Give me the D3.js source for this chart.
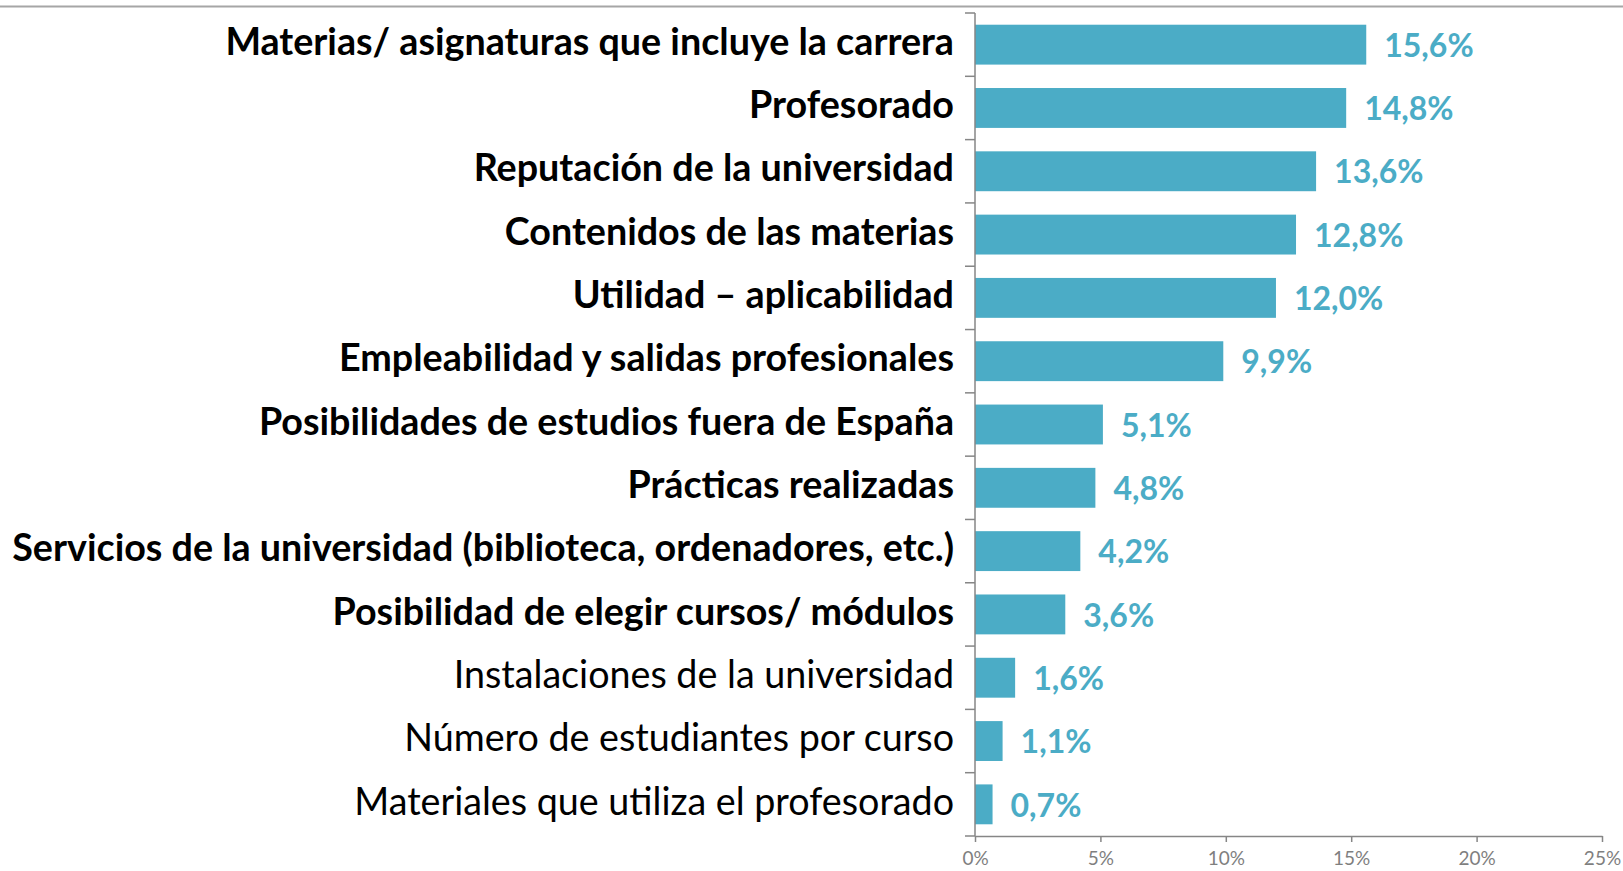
<!DOCTYPE html>
<html>
<head>
<meta charset="utf-8">
<script src="https://cdn.jsdelivr.net/npm/d3@7"></script>
<style>
  body { margin: 0; background: #fff; }
  svg { display: block; }
  text { font-family: Lato, "Open Sans", sans-serif; }
</style>
</head>
<body>
<svg></svg>
<script>
var categories = [
  "Materias/ asignaturas que incluye la carrera",
  "Profesorado",
  "Reputación de la universidad",
  "Contenidos de las materias",
  "Utilidad – aplicabilidad",
  "Empleabilidad y salidas profesionales",
  "Posibilidades de estudios fuera de España",
  "Prácticas realizadas",
  "Servicios de la universidad (biblioteca, ordenadores, etc.)",
  "Posibilidad de elegir cursos/ módulos",
  "Instalaciones de la universidad",
  "Número de estudiantes por curso",
  "Materiales que utiliza el profesorado"
];
var values = [15.6, 14.8, 13.6, 12.8, 12.0, 9.9, 5.1, 4.8, 4.2, 3.6, 1.6, 1.1, 0.7];
var boldFlags = [true, true, true, true, true, true, true, true, true, true, false, false, false];
var xTicks = [0, 5, 10, 15, 20, 25];

var width = 1623, height = 871;
var margin = {top: 13, right: 21, bottom: 35, left: 975};

var svg = d3.select("svg")
  .attr("width", width)
  .attr("height", height);

var data = categories.map(function(c, i) {
  return {name: c, value: values[i], bold: boldFlags[i]};
});

var x = d3.scaleLinear()
  .domain([0, 25])
  .range([margin.left, width - margin.right]);

var y = d3.scaleBand()
  .domain(categories)
  .range([margin.top, height - margin.bottom])
  .paddingInner(0.37)
  .paddingOuter(0.185);

// top border line
svg.append("line")
  .attr("x1", 0).attr("x2", width)
  .attr("y1", 6.5).attr("y2", 6.5)
  .attr("stroke", "#a6a6a6")
  .attr("stroke-width", 2);

// bars
svg.selectAll(".bar")
  .data(data)
  .enter().append("rect")
  .attr("class", "bar")
  .attr("x", x(0))
  .attr("y", d => y(d.name))
  .attr("width", d => x(d.value) - x(0))
  .attr("height", y.bandwidth())
  .attr("fill", "#4bacc6");

// x axis
var xAxis = svg.append("g")
  .attr("transform", "translate(0," + (height - margin.bottom) + ")")
  .call(d3.axisBottom(x).tickValues(xTicks).tickSize(6).tickSizeOuter(0).tickPadding(10)
    .tickFormat(d => d + "%"));
xAxis.select(".domain").attr("stroke", "#868686").attr("stroke-width", 1.5);
xAxis.selectAll(".tick line").attr("stroke", "#868686").attr("stroke-width", 1.5);
xAxis.selectAll(".tick text")
  .attr("fill", "#7f7f7f")
  .style("font-size", "19px")
  .style("font-family", "Lato, sans-serif");

// y axis: line plus ticks between categories
var gap = (y.step() - y.bandwidth()) / 2;
var boundaries = categories.map(c => y(c) - gap);
boundaries.push(y(categories[categories.length - 1]) + y.bandwidth() + gap);

var yAxis = svg.append("g");
yAxis.append("line")
  .attr("x1", x(0)).attr("x2", x(0))
  .attr("y1", boundaries[0]).attr("y2", boundaries[boundaries.length - 1])
  .attr("stroke", "#868686").attr("stroke-width", 1.5);
yAxis.selectAll(".ytick")
  .data(boundaries)
  .enter().append("line")
  .attr("class", "ytick")
  .attr("x1", x(0) - 10).attr("x2", x(0))
  .attr("y1", d => d).attr("y2", d => d)
  .attr("stroke", "#868686").attr("stroke-width", 1.5);

// category labels
var labels = svg.selectAll(".cat")
  .data(data)
  .enter().append("text")
  .attr("class", "cat")
  .attr("x", x(0) - 21)
  .attr("y", d => y(d.name) + y.bandwidth() / 2 - 3)
  .attr("dy", "0.35em")
  .attr("text-anchor", "end")
  .style("font-weight", d => d.bold ? "bold" : "normal")
  .style("font-size", "34px")
  .attr("fill", "#000")
  .text(d => d.name);

// fit label size so the longest label spans like the original
var longest = labels.filter((d, i) => i === 8).node();
var fs = 34 * 942 / longest.getComputedTextLength();
labels.style("font-size", fs + "px");

// value labels
svg.selectAll(".val")
  .data(data)
  .enter().append("text")
  .attr("class", "val")
  .attr("x", d => x(d.value) + 18)
  .attr("y", d => y(d.name) + y.bandwidth() / 2 + 1)
  .attr("dy", "0.35em")
  .style("font-weight", "bold")
  .style("font-size", "32px")
  .attr("fill", "#4bacc6")
  .text(d => d.value.toFixed(1).replace(".", ",") + "%");
</script>
</body>
</html>
